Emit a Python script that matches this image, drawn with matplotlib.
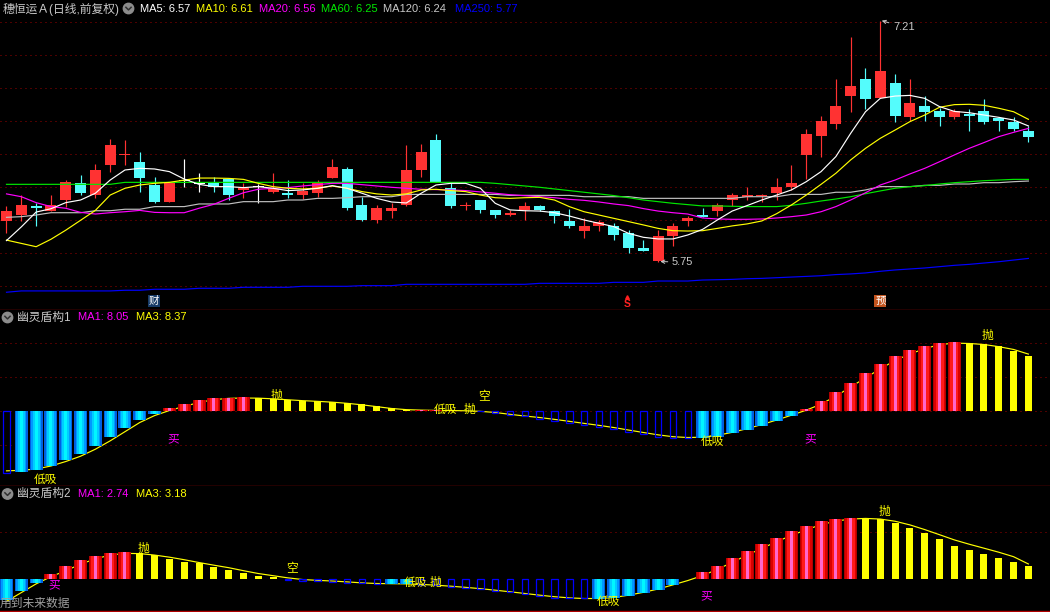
import numpy as np
import matplotlib
matplotlib.use("Agg")
import matplotlib.pyplot as plt
from matplotlib.patches import Circle

plt.rcParams['font.family'] = ['Liberation Sans', 'Noto Sans CJK SC', 'DejaVu Sans']

# ---------------- data ----------------
stock_name = "穗恒运Ａ(日线,前复权)"
opens = [5.996, 6.032, 6.087, 6.058, 6.123, 6.226, 6.155, 6.335, 6.398, 6.353,
         6.214, 6.111, 6.238, 6.222, 6.228, 6.250, 6.186, 6.200, 6.172, 6.166,
         6.153, 6.166, 6.256, 6.311, 6.093, 6.002, 6.056, 6.093, 6.305, 6.487,
         6.196, 6.085, 6.123, 6.063, 6.032, 6.063, 6.087, 6.056, 5.996, 5.935,
         5.966, 5.966, 5.923, 5.832, 5.753, 5.905, 5.996, 6.032, 6.056, 6.123,
         6.141, 6.147, 6.166, 6.202, 6.396, 6.511, 6.584, 6.753, 6.856, 6.741,
         6.832, 6.626, 6.693, 6.662, 6.626, 6.644, 6.662, 6.620, 6.596, 6.541]
highs = [6.087, 6.153, 6.107, 6.153, 6.244, 6.275, 6.341, 6.493, 6.487, 6.414,
         6.262, 6.232, 6.372, 6.285, 6.262, 6.254, 6.226, 6.220, 6.287, 6.244,
         6.226, 6.244, 6.372, 6.323, 6.143, 6.093, 6.107, 6.456, 6.462, 6.523,
         6.226, 6.111, 6.123, 6.063, 6.063, 6.111, 6.093, 6.063, 6.069, 6.014,
         6.002, 5.984, 5.941, 5.881, 5.941, 5.984, 6.026, 6.075, 6.105, 6.166,
         6.202, 6.160, 6.256, 6.335, 6.553, 6.632, 6.856, 7.111, 6.923, 7.210,
         6.887, 6.856, 6.753, 6.681, 6.675, 6.675, 6.735, 6.620, 6.626, 6.572]
lows = [5.925, 5.996, 5.968, 6.058, 6.083, 6.155, 6.137, 6.295, 6.335, 6.174,
        6.105, 6.109, 6.202, 6.172, 6.172, 6.123, 6.135, 6.105, 6.166, 6.135,
        6.129, 6.143, 6.256, 6.063, 5.996, 5.986, 6.014, 6.087, 6.262, 6.232,
        6.075, 6.063, 6.044, 6.014, 6.026, 6.002, 6.056, 5.984, 5.953, 5.893,
        5.935, 5.881, 5.802, 5.814, 5.750, 5.844, 5.966, 6.020, 6.026, 6.087,
        6.123, 6.111, 6.123, 6.184, 6.250, 6.384, 6.553, 6.656, 6.675, 6.741,
        6.596, 6.602, 6.602, 6.572, 6.614, 6.541, 6.584, 6.541, 6.541, 6.475]
closes = [6.056, 6.093, 6.077, 6.091, 6.232, 6.166, 6.305, 6.456, 6.402, 6.258,
          6.111, 6.226, 6.238, 6.222, 6.202, 6.155, 6.198, 6.200, 6.190, 6.155,
          6.178, 6.226, 6.323, 6.077, 6.002, 6.075, 6.075, 6.305, 6.414, 6.232,
          6.087, 6.089, 6.063, 6.032, 6.046, 6.087, 6.063, 6.028, 5.966, 5.966,
          5.990, 5.911, 5.832, 5.814, 5.905, 5.966, 6.014, 6.020, 6.093, 6.153,
          6.153, 6.153, 6.202, 6.226, 6.523, 6.602, 6.693, 6.814, 6.735, 6.905,
          6.632, 6.711, 6.656, 6.626, 6.662, 6.632, 6.596, 6.602, 6.553, 6.505]

ma5 = [5.877, 5.960, 6.050, 6.070, 6.107, 6.123, 6.164, 6.244, 6.305, 6.315,
       6.311, 6.295, 6.250, 6.218, 6.204, 6.204, 6.198, 6.204, 6.194, 6.180,
       6.184, 6.194, 6.210, 6.194, 6.164, 6.133, 6.111, 6.105, 6.164, 6.214,
       6.224, 6.224, 6.194, 6.103, 6.063, 6.058, 6.056, 6.046, 6.026, 6.002,
       5.982, 5.962, 5.921, 5.897, 5.887, 5.887, 5.911, 5.945, 6.002, 6.056,
       6.089, 6.123, 6.153, 6.184, 6.234, 6.295, 6.386, 6.527, 6.658, 6.739,
       6.753, 6.757, 6.739, 6.689, 6.660, 6.652, 6.638, 6.624, 6.608, 6.572]
ma10 = [5.880, 5.860, 5.840, 5.885, 5.940, 6.000, 6.060, 6.153, 6.194, 6.214,
        6.224, 6.230, 6.244, 6.256, 6.256, 6.254, 6.248, 6.224, 6.204, 6.194,
        6.190, 6.194, 6.208, 6.194, 6.174, 6.160, 6.153, 6.160, 6.184, 6.188,
        6.180, 6.174, 6.153, 6.137, 6.133, 6.137, 6.139, 6.123, 6.083, 6.052,
        6.032, 6.012, 5.992, 5.972, 5.951, 5.937, 5.935, 5.937, 5.951, 5.966,
        5.978, 5.996, 6.040, 6.093, 6.153, 6.218, 6.285, 6.366, 6.436, 6.497,
        6.547, 6.598, 6.638, 6.685, 6.701, 6.703, 6.697, 6.679, 6.658, 6.612]
ma20 = [6.160, 6.143, 6.107, 6.083, 6.073, 6.048, 6.038, 6.046, 6.052, 6.060,
        6.048, 6.046, 6.046, 6.073, 6.097, 6.133, 6.167, 6.188, 6.194, 6.198,
        6.208, 6.216, 6.224, 6.224, 6.216, 6.208, 6.200, 6.194, 6.188, 6.186,
        6.184, 6.180, 6.172, 6.164, 6.155, 6.149, 6.143, 6.137, 6.127, 6.121,
        6.111, 6.099, 6.089, 6.071, 6.056, 6.046, 6.038, 6.014, 6.008, 6.006,
        6.006, 6.008, 6.014, 6.022, 6.032, 6.052, 6.083, 6.123, 6.167, 6.214,
        6.244, 6.281, 6.315, 6.355, 6.396, 6.436, 6.471, 6.507, 6.533, 6.557]
ma60 = [6.218, 6.218, 6.218, 6.218, 6.218, 6.218, 6.218, 6.218, 6.230, 6.230,
        6.230, 6.230, 6.230, 6.230, 6.230, 6.230, 6.230, 6.230, 6.230, 6.230,
        6.230, 6.230, 6.230, 6.230, 6.230, 6.230, 6.230, 6.230, 6.230, 6.230,
        6.230, 6.230, 6.230, 6.224, 6.216, 6.208, 6.200, 6.190, 6.180, 6.170,
        6.160, 6.150, 6.137, 6.123, 6.113, 6.103, 6.095, 6.087, 6.087, 6.085,
        6.083, 6.083, 6.083, 6.091, 6.103, 6.117, 6.129, 6.143, 6.161, 6.178,
        6.194, 6.204, 6.210, 6.220, 6.228, 6.234, 6.240, 6.244, 6.248, 6.248]
ma120 = [6.018, 6.022, 6.032, 6.046, 6.046, 6.046, 6.058, 6.058, 6.067, 6.067,
         6.083, 6.083, 6.083, 6.099, 6.099, 6.099, 6.113, 6.113, 6.113, 6.123,
         6.123, 6.133, 6.133, 6.137, 6.143, 6.143, 6.143, 6.157, 6.157, 6.157,
         6.157, 6.157, 6.157, 6.157, 6.151, 6.151, 6.151, 6.151, 6.151, 6.143,
         6.143, 6.143, 6.143, 6.133, 6.133, 6.133, 6.133, 6.133, 6.133, 6.133,
         6.143, 6.143, 6.143, 6.157, 6.157, 6.157, 6.170, 6.170, 6.184, 6.204,
         6.204, 6.204, 6.212, 6.212, 6.220, 6.220, 6.228, 6.228, 6.234, 6.238]
ma250 = [5.564, 5.572, 5.572, 5.572, 5.572, 5.572, 5.572, 5.572, 5.576, 5.576,
         5.582, 5.582, 5.582, 5.588, 5.588, 5.588, 5.594, 5.594, 5.594, 5.594,
         5.600, 5.600, 5.600, 5.600, 5.604, 5.604, 5.604, 5.612, 5.612, 5.612,
         5.612, 5.612, 5.612, 5.612, 5.612, 5.612, 5.618, 5.618, 5.618, 5.618,
         5.618, 5.624, 5.624, 5.624, 5.632, 5.632, 5.632, 5.638, 5.640, 5.642,
         5.646, 5.648, 5.652, 5.656, 5.660, 5.664, 5.671, 5.675, 5.681, 5.691,
         5.699, 5.705, 5.711, 5.719, 5.727, 5.733, 5.741, 5.749, 5.759, 5.769]

# 幽灵盾构1
osc1 = [-9.07, -8.92, -8.68, -8.04, -7.20, -6.32, -5.15, -3.82, -2.50, -1.32,
        -0.39, 0.44, 1.03, 1.62, 1.91, 1.91, 2.06, 1.91, 1.76, 1.62,
        1.47, 1.47, 1.32, 1.18, 1.03, 0.74, 0.44, 0.20, 0.15, 0.12,
        0.08, 0.05, -0.05, -0.34, -0.64, -0.74, -1.18, -1.47, -1.76, -2.06,
        -2.35, -2.65, -3.09, -3.38, -3.82, -3.97, -3.97, -3.97, -3.82, -3.24,
        -2.79, -2.21, -1.47, -0.74, 0.29, 1.47, 2.79, 4.12, 5.59, 6.91,
        8.09, 8.97, 9.56, 10.00, 10.15, 10.00, 9.85, 9.56, 8.82, 8.05]
osc1_ma3 = [-8.80, -8.72, -8.53, -8.09, -7.43, -6.65, -5.62, -4.39, -3.04, -1.69,
            -0.67, 0.07, 0.69, 1.25, 1.67, 1.86, 1.91, 1.89, 1.79, 1.65,
            1.52, 1.42, 1.30, 1.13, 0.91, 0.64, 0.37, 0.20, 0.13, 0.09,
            0.07, 0.03, -0.05, -0.22, -0.49, -0.74, -0.96, -1.23, -1.52, -1.82,
            -2.11, -2.43, -2.80, -3.16, -3.51, -3.78, -3.90, -3.85, -3.58, -3.14,
            -2.60, -1.99, -1.33, -0.62, 0.12, 1.01, 2.18, 3.53, 4.88, 6.20,
            7.43, 8.38, 9.17, 9.76, 9.98, 9.93, 9.78, 9.46, 9.05, 8.37]
osc1_kind = ("B" "CCCCCCCCCC" "RRRRRR" "YYYYYYYYYYY" "RR" "YY"
             "BBBBBBBBBBBBBBB" "CCCCCCC" "RRRRRRRRRRR" "YYYYY")

# 幽灵盾构2
osc2 = [-4.60, -2.66, -0.94, 1.00, 2.73, 4.03, 4.90, 5.54, 5.76, 5.54,
        5.10, 4.24, 3.60, 3.38, 2.52, 1.87, 1.22, 0.58, 0.30, -0.30,
        -0.43, -0.43, -0.65, -0.86, -0.86, -1.08, -1.08, -1.08, -1.37, -1.37,
        -1.73, -1.94, -2.30, -2.66, -2.95, -3.35, -3.74, -4.10, -4.24, -4.24,
        -4.39, -4.24, -3.74, -3.10, -2.52, -1.37, -0.15, 1.44, 2.73, 4.46,
        5.97, 7.48, 8.78, 10.29, 11.37, 12.45, 12.88, 13.10, 13.10, 12.88,
        12.00, 10.94, 9.86, 8.56, 7.05, 6.19, 5.32, 4.46, 3.60, 2.74]
osc2_ma3 = [-4.90, -3.00, -1.12, 0.43, 1.73, 3.13, 4.30, 5.10, 5.47, 5.42,
            5.10, 4.65, 4.10, 3.49, 2.92, 2.38, 1.73, 1.12, 0.65, 0.18,
            -0.18, -0.36, -0.50, -0.69, -0.90, -1.04, -1.08, -1.12, -1.23, -1.40,
            -1.62, -1.87, -2.15, -2.48, -2.83, -3.19, -3.56, -3.89, -4.14, -4.28,
            -4.28, -4.06, -3.56, -2.95, -2.23, -1.33, -0.40, 0.68, 2.01, 3.53,
            5.08, 6.55, 7.99, 9.35, 10.58, 11.66, 12.45, 12.88, 13.02, 12.88,
            12.41, 11.62, 10.61, 9.50, 8.38, 7.45, 6.59, 5.72, 4.75, 3.18]
osc2_kind = ("CCC" "RRRRRR" "YYYYYYYYYY" "BBBBBBB" "CC" "BBBBBBBBBBBB"
             "CCCCCCC" "RRRRRRRRRRR" "YYYYYYYYYYYY")

# signal texts: (bar index, text, value level, colour key, x nudge in bars)
signals1 = [(2, '低吸', -10.2, 'y', 0), (11, '买', -4.2, 'm', 0), (18, '抛', 2.2, 'y', 0),
            (29, '低吸', 0.15, 'y', 0), (31, '抛', 0.15, 'y', 0), (32, '空', 2.0, 'y', 0),
            (47, '低吸', -4.6, 'y', 0), (54, '买', -4.2, 'm', 0), (66, '抛', 11.0, 'y', 0)]
signals2 = [(3, '买', -1.5, 'm', 0), (9, '抛', 6.4, 'y', 0), (19, '空', 2.1, 'y', 0),
            (27, '低吸', -1.0, 'y', 0), (28, '抛', -1.0, 'y', 0.72), (40, '低吸', -5.1, 'y', 0),
            (47, '买', -3.9, 'm', 0), (59, '抛', 14.4, 'y', 0)]
events = [(10, '财'), (42, 'S'), (59, '预')]

# ---------------- layout ----------------
W, H = 1050, 612
BAR_PX = 14.81
X0_PX = 6.5
n = len(closes)
x = np.arange(n)
xlim = (-X0_PX / BAR_PX, (W - X0_PX) / BAR_PX)
pxw = lambda p: p / BAR_PX  # pixel width -> data width

fig = plt.figure(figsize=(W / 100, H / 100), dpi=100, facecolor='black')

def add_panel(top, bottom):
    ax = fig.add_axes([0, 1 - bottom / H, 1, (bottom - top) / H])
    ax.set_facecolor('black')
    ax.set_xlim(*xlim)
    ax.set_xticks([]); ax.set_yticks([])
    for s in ('top', 'left', 'right'):
        ax.spines[s].set_visible(False)
    ax.spines['bottom'].set_color('#B00000')
    ax.spines['bottom'].set_linewidth(1.0)
    return ax

GRID = dict(color='#9A0000', lw=0.72, ls=(0, (1.0, 4.0)), zorder=0)

# ---- price panel ----
ax1 = add_panel(0, 309.5)
ax1.set_ylim(7.2 - (309.5 - 22.3) / 165, 7.2 + 22.3 / 165)
for g in [7.2, 7.0, 6.8, 6.6, 6.4, 6.2, 6.0, 5.8, 5.6]:
    ax1.axhline(g, **GRID)

o = np.array(opens); c = np.array(closes); hi = np.array(highs); lo = np.array(lows)
ccol = np.where(c > o, '#FF3232', np.where(c < o, '#54FCFC', '#FFFFFF'))
ax1.vlines(x, lo, hi, colors=ccol, lw=0.85, zorder=2)
bottoms = np.minimum(o, c)
heights = np.maximum(np.abs(c - o), 0.0065)
ax1.bar(x, heights, bottom=bottoms, width=pxw(11), color=ccol, lw=0, zorder=3)

ma_series = [(ma250, '#0000FF'), (ma120, '#C0C0C0'), (ma60, '#00E800'),
             (ma20, '#FF00FF'), (ma10, '#FFFF00'), (ma5, '#FFFFFF')]
for vals, col in ma_series:
    ax1.plot(x, vals, color=col, lw=0.85, zorder=4)

# extreme price labels
imax = int(np.argmax(hi)); imin = int(np.argmin(lo))
ax1.annotate(f"{hi[imax]:.2f}", xy=(imax + 0.1, hi[imax]), xytext=(imax + 0.86, hi[imax] - 0.04),
             color='#C8C8C8', fontsize=8, va='center', ha='left',
             arrowprops=dict(arrowstyle='->', color='#C8C8C8', lw=0.7, shrinkA=1, shrinkB=0,
                             mutation_scale=6))
ax1.annotate(f"{lo[imin]:.2f}", xy=(imin + 0.15, lo[imin]), xytext=(imin + 0.93, lo[imin] - 0.004),
             color='#C8C8C8', fontsize=8, va='center', ha='left',
             arrowprops=dict(arrowstyle='->', color='#C8C8C8', lw=0.7, shrinkA=1, shrinkB=0,
                             mutation_scale=6))

ev_y = 7.2 - (301 - 22.3) / 165
for idx, t in events:
    if t == '财':
        ax1.text(idx - 0.07, ev_y, t, color='white', fontsize=7.5, ha='center', va='center',
                 bbox=dict(boxstyle='square,pad=0.08', fc='#163A66', ec='none'), zorder=6)
    elif t == '预':
        ax1.text(idx, ev_y, t, color='white', fontsize=7.5, ha='center', va='center',
                 bbox=dict(boxstyle='square,pad=0.08', fc='#C4541E', ec='none'), zorder=6)
    else:
        ax1.text(idx - 0.1, ev_y - 0.02, t, color='#FF2020', fontsize=7.5, fontweight='bold',
                 ha='center', va='center', zorder=6)
        ax1.plot([idx - 0.1], [ev_y + 0.025], marker='^', ms=2.6, color='#FF2020', zorder=6)

# ---- oscillator panels ----
RED_LAYERS = [(13, '#B00000'), (11, '#DA0000'), (8, '#FF1A1A'), (3, '#FF66CC')]
CYAN_LAYERS = [(13, '#0060E0'), (10, '#0098FF'), (7, '#00CCFF'), (3, '#00F6FF')]

def draw_osc(ax, vals, ma3, kinds, grid_vals, signals):
    vals = np.array(vals)
    for g in grid_vals:
        ax.axhline(g, **GRID)
    ax.plot(x, ma3, color='#FFFF00', lw=0.85, zorder=1)
    kinds = np.array(list(kinds))
    for kind, layers in (('R', RED_LAYERS), ('C', CYAN_LAYERS)):
        m = kinds == kind
        for k, (wpx, col) in enumerate(layers):
            ax.bar(x[m], vals[m], width=pxw(wpx), color=col, lw=0, zorder=2 + k * 0.1)
    m = kinds == 'Y'
    ax.bar(x[m], vals[m], width=pxw(7), color='#FFFF00', lw=0, zorder=2)
    m = kinds == 'B'
    ax.bar(x[m], vals[m], width=pxw(6.5), fill=False, edgecolor='#0000FF', lw=0.9, zorder=2)
    for idx, t, lvl, ck, dx in signals:
        ax.text(idx - 0.15 + dx, lvl, t, color='#FFFF00' if ck == 'y' else '#FF00FF',
                fontsize=8.5, ha='left', va='center', zorder=6)

ax2 = add_panel(309.5, 486)
ax2.set_ylim((411 - 486) / 6.8, (411 - 309.5) / 6.8)
draw_osc(ax2, osc1, osc1_ma3, osc1_kind, [10, 5, 0, -5], signals1)

ax3 = add_panel(486, 610.5)
ax3.set_ylim((578.7 - 610.5) / 4.63, (578.7 - 486) / 4.63)
draw_osc(ax3, osc2, osc2_ma3, osc2_kind, [10], signals2)

# ---------------- header texts (pixel overlay) ----------------
ov = fig.add_axes([0, 0, 1, 1])
ov.set_xlim(0, W); ov.set_ylim(H, 0); ov.axis('off'); ov.patch.set_alpha(0)

def icon(cx, cy):
    ov.add_patch(Circle((cx, cy), 5.2, color='#8C8C8C', zorder=5))
    ov.plot([cx - 2.6, cx, cx + 2.6], [cy - 1.2, cy + 1.4, cy - 1.2], color='#303030', lw=1.1, zorder=6)

ov.text(3, 9, stock_name, color='#C8C8C8', fontsize=8.5, va='center', ha='left')
icon(128.5, 8.5)
hdr = [(140, f"MA5: {ma5[-1]:.2f}", '#FFFFFF'), (196, f"MA10: {ma10[-1]:.2f}", '#FFFF00'),
       (259, f"MA20: {ma20[-1]:.2f}", '#FF00FF'), (321, f"MA60: {ma60[-1]:.2f}", '#00E800'),
       (383, f"MA120: {ma120[-1]:.2f}", '#C8C8C8'), (455, f"MA250: {ma250[-1]:.2f}", '#0000FF')]
for xp, t, col in hdr:
    ov.text(xp, 9, t, color=col, fontsize=8, va='center', ha='left')

for yc, name, v1, v3 in [(317.5, '幽灵盾构1', osc1[-1], osc1_ma3[-1]),
                         (494, '幽灵盾构2', osc2[-1], osc2_ma3[-1])]:
    icon(7.5, yc)
    ov.text(17, yc, name, color='#C8C8C8', fontsize=8.5, va='center', ha='left')
    ov.text(78, yc, f"MA1: {v1:.2f}", color='#FF00FF', fontsize=8, va='center', ha='left')
    ov.text(136, yc, f"MA3: {v3:.2f}", color='#FFFF00', fontsize=8, va='center', ha='left')

ov.text(0, 603.5, '用到未来数据', color='#A0A0A0', fontsize=8.5, va='center', ha='left')

fig.savefig('out.png', dpi=100, facecolor='black')
